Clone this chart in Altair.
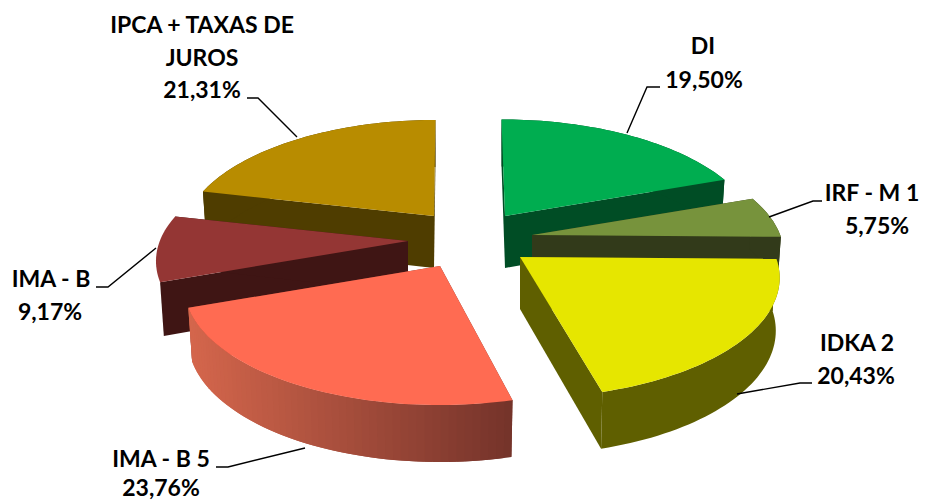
import math
import altair as alt

W, H = 912, 493
OX, OY = 8, 8

# chart values
names = ["DI", "IRF - M 1", "IDKA 2", "IMA - B 5", "IMA - B", "IPCA + TAXAS DE JUROS"]
shares = [19.50, 5.75, 20.43, 23.76, 9.17, 21.31]
top_colors = ["#00AD50", "#77933C", "#E6E600", "#FF6B52", "#943634", "#B88C00"]
wall_colors = ["#004D25", "#323A1A", "#5F5F00", "#74332A", "#3F1514", "#4F3D00"]
apex_x = [505, 532, 520, 440, 408, 434]
apex_y = [216, 235, 257, 266, 241, 216]
radial = [0.985, 0.985, 1.015, 1.0, 0.985, 0.98]
skew = [-3.5, 0, 0, 0, 0, 2.5]
start_shift = [0, 0, 0, 1.7, 0, 0]
draw_order = [5, 0, 4, 1, 2, 3]

label_text = ["IPCA + TAXAS DE", "JUROS", "21,31%", "DI", "19,50%", "IRF - M 1", "5,75%",
              "IDKA 2", "20,43%", "IMA - B 5", "23,76%", "IMA - B", "9,17%"]
label_x = [202, 202, 202, 703, 704, 872, 877, 857, 856, 161, 161, 51, 50]
label_y = [33, 66, 98, 54, 88, 201, 234, 351, 384, 467, 496, 287, 320]

leader_id = ["DI"] * 3 + ["IRF"] * 3 + ["IDKA"] * 3 + ["B5"] * 3 + ["B"] * 3 + ["IPCA"] * 3
leader_x = [627, 647, 660, 769, 813, 822, 737, 800, 812, 305, 228, 216, 156, 108, 96, 297, 258, 247]
leader_y = [133, 87, 87, 217, 201, 201, 394, 383, 383, 448, 467, 467, 248, 287, 287, 137, 98, 98]
leader_ord = [0, 1, 2] * 6

RX, RY, K = 252.0, 115.0, 0.173
DEPTH, DEPTH_TILT, INWARD = 52.0, 5.0, 0.985


def rim(i, deg):
    t = math.radians(deg)
    u, v = math.sin(t), math.cos(t)
    s = 1 / (1 + K * v) * radial[i]
    dx = RX * u * s + skew[i] * v
    x, y = apex_x[i] + dx, apex_y[i] - RY * v * s
    return x, y, apex_x[i] + dx * INWARD, y + DEPTH - DEPTH_TILT * v


def mix(a, b, f):
    ca = [int(a[i:i + 2], 16) for i in (1, 3, 5)]
    cb = [int(b[i:i + 2], 16) for i in (1, 3, 5)]
    return "#%02x%02x%02x" % tuple(round(p + (q - p) * f) for p, q in zip(ca, cb))


features = []


def add(poly, color):
    ring = [[x - OX, y - OY] for x, y in poly]
    ring.append(ring[0])
    features.append({"type": "Feature", "properties": {"c": color},
                     "geometry": {"type": "Polygon", "coordinates": [ring]}})


total = 100.0
edges = [0.0]
for v in shares:
    edges.append(edges[-1] + v * 360 / total)

for i in draw_order:
    cx, cy = apex_x[i], apex_y[i]
    a0, a1 = edges[i] + start_shift[i], edges[i + 1]
    n = max(8, int((a1 - a0) / 1.5))
    angs = [a0 + (a1 - a0) * j / n for j in range(n + 1)]
    pts = [rim(i, a) for a in angs]
    wall = wall_colors[i]
    # cut faces
    for p in (pts[0], pts[-1]):
        add([(cx, cy), (p[0], p[1]), (p[2], p[3]), (cx, cy + DEPTH)], wall)
    # outer rim
    if names[i] == "IMA - B 5":
        for j in range(n):
            p, q = pts[j], pts[min(j + 2, n)]
            f = max(0, min(1, ((pts[j][0] + pts[j + 1][0]) / 2 - 190) / 323))
            add([(p[0], p[1]), (q[0], q[1]), (q[2], q[3]), (p[2], p[3])],
                mix("#74332A", "#D4664C", 1 - f))
    elif names[i] != "IMA - B":
        add([(p[0], p[1]) for p in pts] + [(p[2], p[3]) for p in reversed(pts)], wall)
    add([(cx, cy)] + [(p[0], p[1]) for p in pts], top_colors[i])

slices = alt.Chart(
    alt.InlineData(values={"type": "FeatureCollection", "features": features},
                   format=alt.DataFormat(type="json", property="features"))
).mark_geoshape(strokeWidth=0).encode(
    fill=alt.Fill("properties.c:N", scale=None),
).project(type="identity", scale=1, translate=[0, 0])

xs = alt.Scale(domain=[0, W], range=[0, W])
ys = alt.Scale(domain=[0, H], range=[0, H])

leaders = alt.Chart(alt.Data(values=[
    {"id": a, "x": x - OX, "y": y - OY, "o": o}
    for a, x, y, o in zip(leader_id, leader_x, leader_y, leader_ord)
])).mark_line(color="black", strokeWidth=1.4).encode(
    x=alt.X("x:Q", scale=xs, axis=None),
    y=alt.Y("y:Q", scale=ys, axis=None),
    detail="id:N",
    order="o:Q",
)

labels = alt.Chart(alt.Data(values=[
    {"t": t, "x": x - OX, "y": y - OY} for t, x, y in zip(label_text, label_x, label_y)
])).mark_text(font="Lato", fontWeight="bold", fontSize=23, color="black", align="center",
              baseline="alphabetic").encode(
    x=alt.X("x:Q", scale=xs, axis=None),
    y=alt.Y("y:Q", scale=ys, axis=None),
    text="t:N",
)

chart = alt.layer(slices, leaders, labels).properties(
    width=W, height=H, padding=0, autosize=alt.AutoSizeParams(type="none"),
    background="white",
).configure_view(stroke=None)

chart.save("out.html", embed_options={"renderer": "svg", "actions": False})
